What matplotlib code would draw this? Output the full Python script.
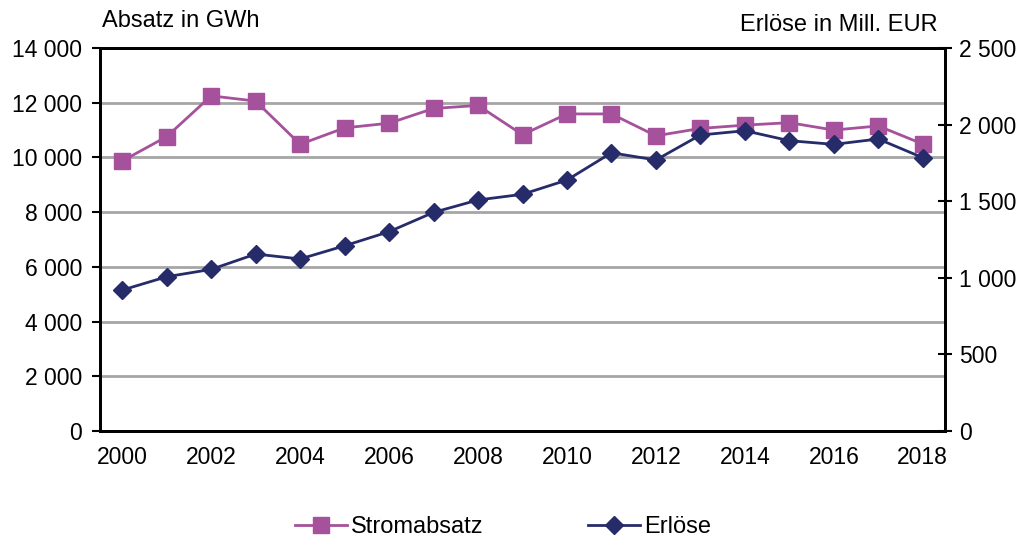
import matplotlib.pyplot as plt

plt.rcParams['font.family'] = ['Liberation Sans', 'DejaVu Sans']

years = list(range(2000, 2019))

# Stromabsatz in GWh (linke Achse)
absatz = [9870, 10760, 12250, 12060, 10480, 11080, 11250, 11790, 11900, 10830,
          11590, 11590, 10790, 11060, 11180, 11270, 11000, 11150, 10490]

# Erlöse in Mill. EUR (rechte Achse)
erloese = [920, 1007, 1055, 1155, 1123, 1209, 1301, 1427, 1508, 1545,
           1638, 1816, 1769, 1932, 1960, 1895, 1871, 1906, 1784]

c_absatz = '#A5519B'
c_erl = '#262C69'


def fmt(v):
    return '{:,}'.format(int(v)).replace(',', ' ')


fig = plt.figure(figsize=(10.32, 5.41), dpi=100)
ax = fig.add_axes([0.0969, 0.2033, 0.8188, 0.708])
ax2 = ax.twinx()

x = list(range(len(years)))
l1, = ax.plot(x, absatz, color=c_absatz, lw=2, marker='s', ms=11, label='Stromabsatz', zorder=3)
l2, = ax2.plot(x, erloese, color=c_erl, lw=2, marker='D', ms=9, label='Erlöse', zorder=3)

ax.set_xlim(-0.5, 18.5)
ax.set_ylim(0, 14000)
ax2.set_ylim(0, 2500)

yt = list(range(0, 14001, 2000))
ax.set_yticks(yt)
ax.set_yticklabels([fmt(v) for v in yt], fontsize=16.5)
yt2 = list(range(0, 2501, 500))
ax2.set_yticks(yt2)
ax2.set_yticklabels([fmt(v) for v in yt2], fontsize=16.5)

ax.set_xticks(x[::2])
ax.set_xticklabels([str(y) for y in years[::2]], fontsize=16.5)
ax.tick_params(axis='x', length=0, pad=11)
ax.tick_params(axis='y', length=6, width=1.5, pad=7)
ax2.tick_params(axis='y', direction='inout', length=10, width=1.5, pad=5)

ax.grid(axis='y', color='#A6A6A6', lw=2)
ax.set_axisbelow(True)
for a in (ax, ax2):
    for s in a.spines.values():
        s.set_linewidth(2)
        s.set_color('black')

fig.text(0.099, 0.962, 'Absatz in GWh', fontsize=17, ha='left', va='center')
fig.text(0.909, 0.953, 'Erlöse in Mill. EUR', fontsize=17, ha='right', va='center')

fig.legend([l1, l2], ['Stromabsatz', 'Erlöse'], loc='center', bbox_to_anchor=(0.4874, 0.026),
           ncol=2, frameon=False, fontsize=17, columnspacing=4.4, handlelength=2.2, handletextpad=0.2)

fig.savefig('out.png', dpi=100)
